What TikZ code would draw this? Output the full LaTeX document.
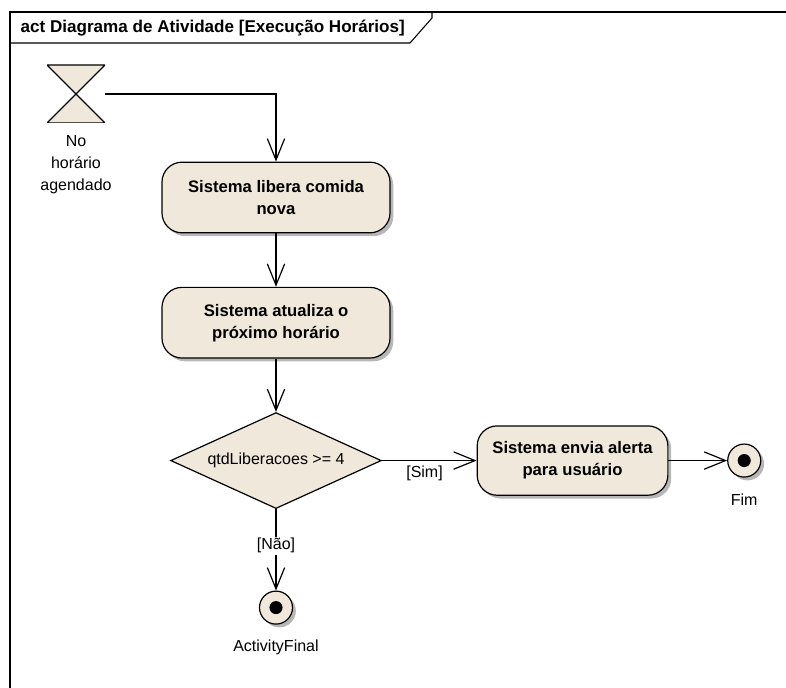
\documentclass[tikz,border=0pt]{standalone}
\usepackage{fontspec}
\setmainfont{Liberation Sans}
\usepackage{xcolor}
\usetikzlibrary{positioning,arrows.meta,shapes.geometric,shadows}

\definecolor{bege}{RGB}{240,232,219}
\definecolor{sombra}{RGB}{165,165,165}

\begin{document}
\begin{tikzpicture}[
        x=0.75pt, y=-0.75pt,
        node distance=40pt and 71pt,
        font=\fontsize{12}{16.5}\selectfont,
        sombreado/.style={drop shadow={shadow xshift=2.5pt, shadow yshift=-2.5pt,
                          fill=sombra, opacity=0.8}},
        acao/.style={draw, rounded corners=15pt, fill=bege, line width=0.9pt,
                     minimum width=171pt, minimum height=53pt, align=center,
                     font=\fontsize{12.5}{16.5}\selectfont\bfseries, sombreado},
        decisao/.style={draw, diamond, fill=bege, line width=0.9pt, inner sep=0pt,
                        minimum width=158pt, minimum height=72pt, aspect=2.2},
        final/.style={draw, circle, fill=bege, line width=0.9pt, inner sep=0pt,
                      minimum size=24.75pt, sombreado,
                      path picture={\fill[black] (path picture bounding box.center) circle (4.9pt);}},
        tempo/.style={minimum width=43.5pt, minimum height=43.5pt, inner sep=0pt,
                      path picture={\draw[fill=bege, line width=0.9pt]
                        (path picture bounding box.north west) -- (path picture bounding box.north east)
                        -- (path picture bounding box.south west) -- (path picture bounding box.south east)
                        -- cycle;}},
        rotulo/.style={inner sep=0pt, align=center},
        fluxo/.style={-{Straight Barb[length=16pt,width=13pt]}, line width=0.9pt}
    ]
        \useasboundingbox (0,0) rectangle (786,688);

        % moldura do diagrama
        \draw[line width=0.8pt] (10,688) -- (10,12) -- (786,12);
        \draw[line width=0.8pt] (10,43) -- (410,43) -- (432,18) -- (432,12);
        \node[anchor=west, font=\fontsize{12.8}{14}\selectfont\bfseries] (titulo) at (16,28)
            {act Diagrama de Atividade [Execução Horários]};

        \node[tempo] (agenda) at (76,94) {};
        \node[rotulo, below=9pt of agenda] (agendatxt) {No\\horário\\agendado};

        \node[acao] (libera) at (276,197.5) {Sistema libera comida\\nova};
        \node[acao, below=of libera]   (atualiza) {Sistema atualiza o\\próximo horário};
        \node[decisao, below=of atualiza] (qtd) {qtdLiberacoes >= 4};
        \node[acao, right=of qtd, minimum width=143pt, minimum height=52pt] (alerta)
            {Sistema envia alerta\\para usuário};
        \node[final, right=44pt of alerta] (fim) {};
        \node[rotulo, below=12pt of fim] (fimtxt) {Fim};
        \node[final, below=61pt of qtd] (activityfinal) {};
        \node[rotulo, below=11pt of activityfinal] (activitytxt) {ActivityFinal};

        \draw[fluxo] (agenda.east) -| (libera.north);
        \draw[fluxo] (libera) -- (atualiza);
        \draw[fluxo] (atualiza) -- (qtd);
        \draw[fluxo] (qtd) -- node[below, pos=0.45] {[Sim]} (alerta);
        \draw[fluxo] (alerta) -- (fim);
        \draw[fluxo] (qtd) -- node[fill=white, inner sep=1pt, pos=0.45] {[Não]} (activityfinal);
    \end{tikzpicture}
\end{document}
